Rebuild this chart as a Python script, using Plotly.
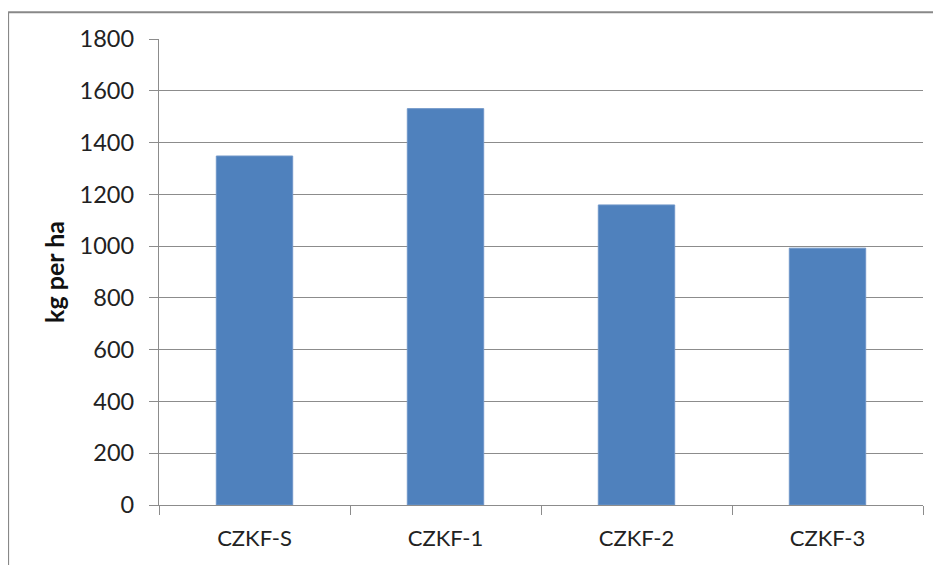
import plotly.graph_objects as go

categories = ["CZKF-S", "CZKF-1", "CZKF-2", "CZKF-3"]
values = [1348, 1531, 1159, 992]
y_ticks = [0, 200, 400, 600, 800, 1000, 1200, 1400, 1600, 1800]

# page offset caused by the default 8px body margin
OFF = 8
W, H = 941 - OFF, 565 - OFF
L, R, T, B = 159 - OFF, 17.5, 38.7 - OFF, 60

def px_x(px):
    return (px - OFF - L) / (W - L - R)

def px_y(py):
    return (H - B - (py - OFF)) / (H - T - B)

FONT = "Lato"
GRID = "#8c8c8c"
TXT = "#222222"

fig = go.Figure(
    go.Bar(
        x=categories,
        y=values,
        marker=dict(color="#4f81bd", line=dict(color="#6f96c8", width=1)),
        width=0.4,
    )
)

fig.update_layout(
    width=W,
    height=H,
    margin=dict(l=L, r=R, t=T, b=B, pad=0),
    paper_bgcolor="white",
    plot_bgcolor="white",
    showlegend=False,
    font=dict(family=FONT, size=22, color=TXT),
    xaxis=dict(
        showline=True,
        linecolor=GRID,
        linewidth=1.3,
        ticks="outside",
        ticklen=9,
        tickcolor=GRID,
        tickwidth=1.3,
        tickson="boundaries",
        showgrid=False,
        tickfont=dict(family=FONT, size=22, color=TXT),
        ticklabelstandoff=13,
    ),
    yaxis=dict(
        range=[0, 1800],
        tickvals=y_ticks,
        showline=True,
        linecolor=GRID,
        linewidth=1.3,
        ticks="outside",
        ticklen=9,
        tickcolor=GRID,
        tickwidth=1.3,
        showgrid=True,
        gridcolor=GRID,
        gridwidth=1.3,
        zeroline=False,
        tickfont=dict(family=FONT, size=23.5, color=TXT),
        ticklabelstandoff=10,
        title=dict(
            text="<b>kg per ha</b>",
            font=dict(family=FONT, size=25, color="#111111"),
            standoff=7,
        ),
    ),
    shapes=[
        dict(type="line", xref="paper", yref="paper",
             x0=px_x(8), x1=px_x(8), y0=px_y(12), y1=px_y(575),
             line=dict(color="#888888", width=2)),
        dict(type="line", xref="paper", yref="paper",
             x0=px_x(8), x1=px_x(950), y0=px_y(12), y1=px_y(12),
             line=dict(color="#888888", width=2)),
    ],
)

fig.write_html("out.html")
